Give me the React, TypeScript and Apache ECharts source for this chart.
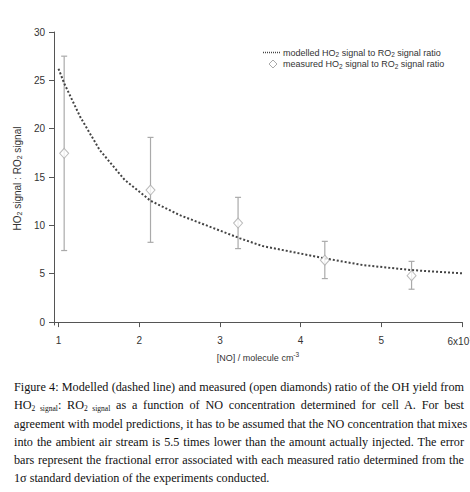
import React, { useEffect, useRef } from "react";
import * as echarts from "echarts";

const xTicks = [1, 2, 3, 4, 5, 6];
const yTicks = [0, 5, 10, 15, 20, 25, 30];

const modelX = [1.0, 1.07, 1.27, 1.51, 1.82, 2.14, 2.5, 3.25, 3.53, 4.3, 4.77, 5.375, 6.0];
const modelY = [26.2, 24.7, 21.2, 17.8, 14.7, 12.55, 11.07, 8.66, 7.86, 6.59, 5.9, 5.38, 5.04];

const measX = [1.07, 2.14, 3.225, 4.3, 5.375];
const measY = [17.45, 13.65, 10.24, 6.4, 4.8];
const errLow = [7.4, 8.25, 7.6, 4.5, 3.4];
const errHigh = [27.5, 19.1, 12.9, 8.35, 6.28];

const legendLabels = [
  "modelled HO{sub|2} signal to RO{sub|2} signal ratio",
  "measured HO{sub|2} signal to RO{sub|2} signal ratio",
];

const FONT = "Liberation Sans";
const SERIF = "'Liberation Serif', 'Times New Roman', serif";

const subStyle = { fontSize: "7.5px", verticalAlign: "-2px" };

const captionLines: React.ReactNode[] = [
  <>Figure 4: Modelled (dashed line) and measured (open diamonds) ratio of the OH yield from</>,
  <>
    HO<sub style={subStyle}>2 signal</sub>: RO<sub style={subStyle}>2 signal</sub> as a function of NO
    concentration determined for cell A. For best
  </>,
  <>agreement with model predictions, it has to be assumed that the NO concentration that mixes</>,
  <>into the ambient air stream is 5.5 times lower than the amount actually injected. The error</>,
  <>bars represent the fractional error associated with each measured ratio determined from the</>,
  <>1σ standard deviation of the experiments conducted.</>,
];

export default function App() {
  const ref = useRef<HTMLDivElement>(null);

  useEffect(() => {
    if (!ref.current) return;
    const chart = echarts.init(ref.current, undefined, { renderer: "svg" });
    const axisColor = "#555";
    const labelColor = "#333";
    const legendRich = {
      sub: { fontFamily: FONT, fontSize: 6.5, fill: labelColor, verticalAlign: "bottom", padding: [4, 0, 0, 0] },
    };
    const option: any = {
      animation: false,
      backgroundColor: "#fff",
      grid: { left: 54, right: 8, top: 32, bottom: 45, containLabel: false, outerBoundsMode: "none" },
      graphic: [
        {
          type: "line",
          shape: { x1: 263, y1: 52.5, x2: 280, y2: 52.5 },
          style: { stroke: "#444", lineWidth: 1.5, lineDash: [1, 1] },
        },
        {
          type: "polygon",
          shape: { points: [[273, 60], [277, 64], [273, 68], [269, 64]] },
          style: { stroke: "#aaa", fill: "#fff", lineWidth: 1 },
        },
        {
          type: "text",
          x: 283,
          y: 52.5,
          style: {
            text: legendLabels[0],
            fontFamily: FONT,
            fontSize: 9,
            fill: labelColor,
            verticalAlign: "middle",
            rich: legendRich,
          },
        },
        {
          type: "text",
          x: 283,
          y: 64,
          style: {
            text: legendLabels[1],
            fontFamily: FONT,
            fontSize: 9,
            fill: labelColor,
            verticalAlign: "middle",
            rich: legendRich,
          },
        },
      ],
      xAxis: {
        type: "value",
        min: 0.944,
        max: 6,
        name: "[NO] / molecule cm{sup|-3}",
        nameLocation: "middle",
        nameGap: 26,
        nameTextStyle: {
          fontFamily: FONT,
          fontSize: 9,
          color: labelColor,
          rich: {
            sup: { fontFamily: FONT, fontSize: 6.5, color: labelColor, verticalAlign: "top", padding: [0, 0, 6, 0] },
          },
        },
        axisLine: { show: true, lineStyle: { color: axisColor, width: 1 } },
        axisTick: { show: true, length: 5, inside: false, customValues: xTicks, lineStyle: { color: axisColor } },
        axisLabel: {
          customValues: xTicks,
          fontFamily: FONT,
          fontSize: 10,
          color: labelColor,
          margin: 10,
          formatter: (v: number) => (v === 6 ? "6x10{sup|14}" : String(v)),
          rich: {
            sup: { fontFamily: FONT, fontSize: 6.5, color: labelColor, verticalAlign: "top", padding: [0, 0, 6, 0] },
          },
        },
        splitLine: { show: false },
      },
      yAxis: {
        type: "value",
        min: -0.3,
        max: 30,
        name: "HO{sub|2} signal : RO{sub|2} signal",
        nameLocation: "middle",
        nameGap: 29,
        nameRotate: 90,
        nameTextStyle: {
          fontFamily: FONT,
          fontSize: 10,
          color: labelColor,
          rich: {
            sub: { fontFamily: FONT, fontSize: 7, color: labelColor, verticalAlign: "bottom", padding: [4, 0, 0, 0] },
          },
        },
        axisLine: { show: true, lineStyle: { color: axisColor, width: 1 } },
        axisTick: { show: true, length: 5, inside: false, customValues: yTicks, lineStyle: { color: axisColor } },
        axisLabel: { customValues: yTicks, fontFamily: FONT, fontSize: 10, color: labelColor, margin: 9 },
        splitLine: { show: false },
      },
      series: [
        {
          name: "modelled",
          type: "line",
          data: modelX.map((x, i) => [x, modelY[i]]),
          symbol: "none",
          smooth: false,
          lineStyle: { color: "#444", width: 2, type: "dotted" },
          itemStyle: { color: "#444" },
          z: 3,
        },
        {
          name: "errorbars",
          type: "custom",
          data: measX.map((x, i) => [x, errLow[i], errHigh[i]]),
          renderItem: (params: any, api: any) => {
            const x = api.value(0);
            const lo = api.coord([x, api.value(1)]);
            const hi = api.coord([x, api.value(2)]);
            const w = 3;
            const style = { stroke: "#aaa", lineWidth: 1.2 };
            return {
              type: "group",
              children: [
                { type: "line", shape: { x1: lo[0], y1: lo[1], x2: hi[0], y2: hi[1] }, style },
                { type: "line", shape: { x1: lo[0] - w, y1: lo[1], x2: lo[0] + w, y2: lo[1] }, style },
                { type: "line", shape: { x1: hi[0] - w, y1: hi[1], x2: hi[0] + w, y2: hi[1] }, style },
              ],
            };
          },
          encode: { x: 0, y: [1, 2] },
          z: 2,
        },
        {
          name: "measured",
          type: "scatter",
          data: measX.map((x, i) => [x, measY[i]]),
          symbol: "diamond",
          symbolSize: [9, 10],
          itemStyle: { color: "#fff", borderColor: "#aaa", borderWidth: 1 },
          z: 4,
        },
      ],
    };
    chart.setOption(option);
    return () => chart.dispose();
  }, []);

  return (
    <div style={{ position: "fixed", left: 0, top: 0, width: 470, height: 492, background: "#fff", overflow: "hidden" }}>
      <div ref={ref} style={{ position: "absolute", left: 0, top: 0, width: 470, height: 370 }} />
      <div
        style={{
          position: "absolute",
          left: 14,
          top: 378,
          width: 450,
          fontFamily: SERIF,
          fontSize: "12.2px",
          lineHeight: "18.3px",
          color: "#111",
        }}
      >
        {captionLines.map((l, i) => (
          <div
            key={i}
            style={{
              textAlign: i === captionLines.length - 1 ? "left" : "justify",
              textAlignLast: i === captionLines.length - 1 ? "left" : "justify",
              whiteSpace: "nowrap",
              height: "18.3px",
            }}
          >
            {l}
          </div>
        ))}
      </div>
    </div>
  );
}
